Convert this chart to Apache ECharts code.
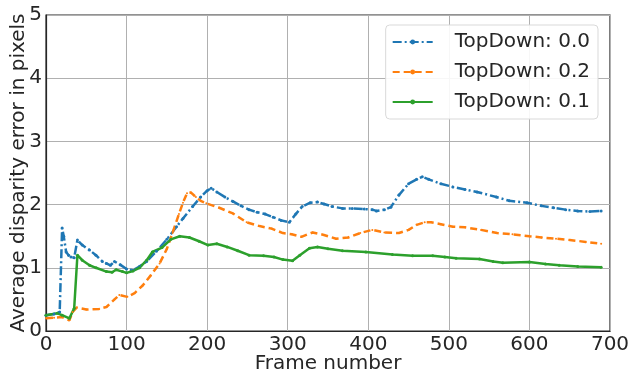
<!DOCTYPE html>
<html>
<head>
<meta charset="utf-8">
<script src="https://cdn.jsdelivr.net/npm/echarts@6/dist/echarts.min.js"></script>
<style>
  html, body { margin: 0; padding: 0; background: #fff; }
  #chart { width: 628px; height: 374px; }
</style>
</head>
<body>
<div id="chart"></div>
<script>
// 图例名称
const names = ['TopDown: 0.0', 'TopDown: 0.2', 'TopDown: 0.1']

// TopDown: 0.0 (蓝色)
const framesA = [0, 10, 17, 20, 22, 25, 28, 31, 35, 39, 45, 54, 62, 70, 75, 80, 85, 92, 100, 108, 116, 125, 137, 150, 162, 170, 182, 192, 200, 205, 212, 222, 232, 242, 252, 262, 272, 282, 292, 302, 310, 318, 328, 337, 345, 355, 368, 380, 395, 405, 410, 420, 428, 438, 450, 460, 467, 475, 490, 505, 520, 535, 559, 575, 597, 615, 630, 645, 660, 675, 689]
const valuesA = [0.25, 0.27, 0.3, 1.63, 1.5, 1.25, 1.2, 1.17, 1.16, 1.44, 1.36, 1.28, 1.2, 1.1, 1.07, 1.04, 1.1, 1.05, 0.98, 0.96, 1.02, 1.1, 1.26, 1.45, 1.65, 1.78, 1.97, 2.12, 2.22, 2.26, 2.2, 2.12, 2.05, 1.98, 1.92, 1.88, 1.85, 1.8, 1.75, 1.72, 1.85, 1.97, 2.03, 2.04, 2.01, 1.97, 1.94, 1.94, 1.93, 1.92, 1.9, 1.92, 1.96, 2.15, 2.33, 2.4, 2.44, 2.4, 2.33, 2.28, 2.24, 2.2, 2.12, 2.06, 2.03, 1.98, 1.95, 1.92, 1.9, 1.89, 1.9]

// TopDown: 0.2 (橙色)
const framesB = [0, 10, 20, 29, 33, 38, 50, 66, 75, 85, 91, 101, 110, 120, 130, 141, 150, 157, 165, 170, 175, 180, 186, 192, 199, 215, 232, 249, 265, 280, 294, 305, 317, 331, 345, 360, 375, 390, 405, 420, 438, 450, 460, 470, 478, 490, 505, 520, 540, 560, 579, 600, 615, 633, 650, 670, 689]
const valuesB = [0.2, 0.21, 0.22, 0.17, 0.3, 0.37, 0.34, 0.35, 0.38, 0.5, 0.57, 0.54, 0.6, 0.72, 0.88, 1.07, 1.3, 1.55, 1.85, 2.03, 2.18, 2.19, 2.12, 2.06, 2.02, 1.95, 1.86, 1.72, 1.66, 1.62, 1.55, 1.53, 1.49, 1.56, 1.52, 1.46, 1.48, 1.55, 1.6, 1.56, 1.55, 1.6, 1.68, 1.72, 1.72, 1.69, 1.65, 1.64, 1.6, 1.55, 1.53, 1.5, 1.48, 1.46, 1.44, 1.41, 1.38]

// TopDown: 0.1 (绿色)
const framesC = [0, 14, 20, 29, 35, 39, 45, 54, 62, 75, 82, 87, 95, 100, 108, 116, 125, 132, 144, 155, 166, 178, 190, 201, 212, 225, 238, 252, 270, 283, 294, 306, 315, 327, 337, 350, 368, 397, 430, 455, 480, 495, 509, 538, 555, 567, 600, 620, 637, 660, 689]
const valuesC = [0.25, 0.28, 0.25, 0.2, 0.36, 1.2, 1.12, 1.04, 1.0, 0.94, 0.93, 0.97, 0.94, 0.92, 0.95, 1.0, 1.12, 1.25, 1.32, 1.45, 1.5, 1.48, 1.42, 1.36, 1.38, 1.33, 1.27, 1.2, 1.19, 1.17, 1.13, 1.11, 1.2, 1.31, 1.33, 1.3, 1.27, 1.25, 1.21, 1.19, 1.19, 1.17, 1.15, 1.14, 1.1, 1.08, 1.09, 1.06, 1.04, 1.02, 1.01]

const xTicks = [0, 100, 200, 300, 400, 500, 600, 700]
const yTicks = [0, 1, 2, 3, 4, 5]

const pair = (xs, ys) => xs.map((x, i) => [x, ys[i]])

const chart = echarts.init(document.getElementById('chart'))
const font = 'DejaVu Sans'
const option = {
    animation: false,
    textStyle: { fontFamily: font },
    grid: {
        left: 46, right: 18, top: 15, bottom: 43,
        outerBoundsMode: 'none',
        show: true, borderColor: '#262626', borderWidth: 1.2
    },
    legend: {
        data: names,
        right: 30,
        top: 25,
        orient: 'vertical',
        itemWidth: 40,
        itemHeight: 6,
        itemGap: 8,
        padding: [6, 8, 6, 6],
        borderColor: '#d9d9d9',
        borderWidth: 1,
        borderRadius: 4,
        backgroundColor: 'rgba(255,255,255,0.9)',
        textStyle: { fontSize: 20, color: '#262626', fontFamily: font, padding: [0, 0, 0, 17], lineHeight: 22 }
    },
    xAxis: {
        type: 'value',
        min: xTicks[0],
        max: xTicks[xTicks.length - 1],
        interval: 100,
        name: 'Frame number',
        nameLocation: 'middle',
        nameGap: 23,
        nameMoveOverlap: false,
        nameTextStyle: { fontSize: 20, color: '#262626' },
        axisLine: { lineStyle: { color: '#262626', width: 1.2 } },
        axisTick: { show: false },
        axisLabel: { fontSize: 20, color: '#262626', margin: 4 },
        splitLine: { lineStyle: { color: '#b0b0b0', width: 1 } }
    },
    yAxis: {
        type: 'value',
        min: yTicks[0],
        max: yTicks[yTicks.length - 1],
        interval: 1,
        name: 'Average disparity error in pixels',
        nameLocation: 'middle',
        nameGap: 17,
        nameMoveOverlap: false,
        nameTextStyle: { fontSize: 20, color: '#262626' },
        axisLine: { lineStyle: { color: '#262626', width: 1.2 } },
        axisTick: { show: false },
        axisLabel: { fontSize: 20, color: '#262626', margin: 4 },
        splitLine: { lineStyle: { color: '#b0b0b0', width: 1 } }
    },
    series: [
        {
            name: names[0],
            type: 'line',
            data: pair(framesA, valuesA),
            symbol: 'circle',
            symbolSize: 3,
            color: '#1f77b4',
            lineStyle: { width: 2.5, type: [9, 3, 2, 3] }
        },
        {
            name: names[1],
            type: 'line',
            data: pair(framesB, valuesB),
            symbol: 'circle',
            symbolSize: 2,
            color: '#ff7f0e',
            lineStyle: { width: 2.5, type: [7, 4] }
        },
        {
            name: names[2],
            type: 'line',
            data: pair(framesC, valuesC),
            symbol: 'circle',
            symbolSize: 3,
            color: '#2ca02c',
            lineStyle: { width: 2.5 }
        }
    ]
}
chart.setOption(option)
</script>
</body>
</html>
